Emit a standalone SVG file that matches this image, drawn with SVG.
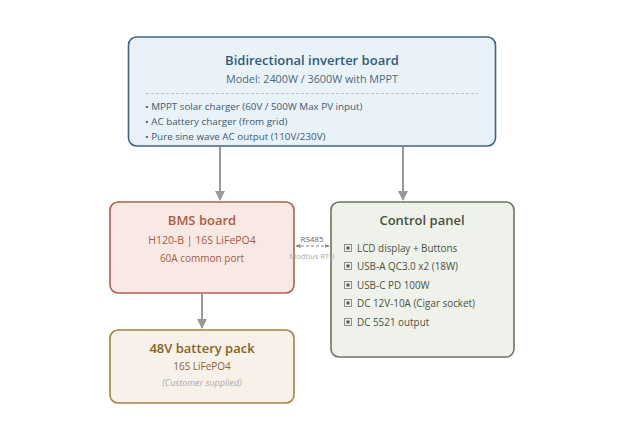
<svg xmlns="http://www.w3.org/2000/svg" width="624" height="446" viewBox="0 0 624 446">
<defs>
<marker id="ah" viewBox="0 0 10 10" refX="9" refY="5" markerWidth="5" markerHeight="5" orient="auto"><path d="M0,0 L10,5 L0,10 z" fill="#999"/></marker>
<marker id="sa" viewBox="0 0 10 10" refX="9" refY="5" markerWidth="5" markerHeight="5" orient="auto-start-reverse"><path d="M0,1 L10,5 L0,9 z" fill="#888"/></marker>
<style>
text{font-family:"Open Sans","Noto Sans",sans-serif}
.t{font-weight:600;font-size:13px;text-anchor:middle}
.s{font-size:10.5px;text-anchor:middle}
.b{font-size:9.8px;fill:#3d5a70}
.c{font-size:9.9px;fill:#4a5244}
.box{stroke-width:1.6}
.conn{stroke:#999;stroke-width:2;fill:none}
</style>
</defs>
<rect width="624" height="446" fill="#ffffff"/>
<g id="inverter">
<rect class="box" x="128.5" y="37" width="367" height="109" rx="8" fill="#e9f2f9" stroke="#3f6482"/>
<text class="t" x="312" y="65" fill="#2d5a80">Bidirectional inverter board</text>
<text class="s" x="312" y="82.5" fill="#4c6a80" style="font-size:10.8px">Model: 2400W / 3600W with MPPT</text>
<line x1="146" y1="93.5" x2="478" y2="93.5" stroke="#b8c4cc" stroke-width="1" stroke-dasharray="3,2"/>
<text class="b" x="145" y="110">• MPPT solar charger (60V / 500W Max PV input)</text>
<text class="b" x="145" y="125">• AC battery charger (from grid)</text>
<text class="b" x="145" y="140">• Pure sine wave AC output (110V/230V)</text>
</g>
<g id="bms">
<rect class="box" x="110" y="202" width="184" height="91" rx="8" fill="#f9e9e5" stroke="#b0604e"/>
<text class="t" x="202" y="225" fill="#b35a40">BMS board</text>
<text class="s" x="202" y="244" fill="#a85a46">H120-B | 16S LiFePO4</text>
<text class="s" x="202" y="262" fill="#a85a46" style="font-size:10px">60A common port</text>
</g>
<g id="control">
<rect class="box" x="331" y="202" width="183" height="155" rx="8" fill="#eff2ea" stroke="#6e7464"/>
<text class="t" x="422" y="225" fill="#4a5040">Control panel</text>
<g fill="none" stroke="#777" stroke-width="0.8">
<rect x="344.5" y="244.5" width="7" height="7"/>
<rect x="344.5" y="262.5" width="7" height="7"/>
<rect x="344.5" y="281.5" width="7" height="7"/>
<rect x="344.5" y="299.5" width="7" height="7"/>
<rect x="344.5" y="318.5" width="7" height="7"/>
</g>
<g fill="#555">
<rect x="346.5" y="246.5" width="3" height="3"/>
<rect x="346.5" y="264.5" width="3" height="3"/>
<rect x="346.5" y="283.5" width="3" height="3"/>
<rect x="346.5" y="301.5" width="3" height="3"/>
<rect x="346.5" y="320.5" width="3" height="3"/>
</g>
<text class="c" x="357" y="251.5">LCD display + Buttons</text>
<text class="c" x="357" y="269.5">USB-A QC3.0 x2 (18W)</text>
<text class="c" x="357" y="288.5">USB-C PD 100W</text>
<text class="c" x="357" y="306.5">DC 12V-10A (Cigar socket)</text>
<text class="c" x="357" y="325.5">DC 5521 output</text>
</g>
<g id="battery">
<rect class="box" x="110" y="330" width="184" height="73" rx="8" fill="#f8f1ea" stroke="#a3843f"/>
<text class="t" x="202" y="353" fill="#8a6222">48V battery pack</text>
<text class="s" x="202" y="370" fill="#8a6634" style="font-size:10px">16S LiFePO4</text>
<text class="s" x="202" y="386" fill="#aaa" style="font-size:9px;font-style:italic">(Customer supplied)</text>
</g>
<g id="connectors">
<line class="conn" x1="220" y1="147" x2="220" y2="200" marker-end="url(#ah)"/>
<line class="conn" x1="403" y1="147" x2="403" y2="200" marker-end="url(#ah)"/>
<line class="conn" x1="202" y1="294" x2="202" y2="328" marker-end="url(#ah)"/>
<line x1="296" y1="246" x2="329" y2="246" stroke="#888" stroke-width="1" stroke-dasharray="3,2" marker-start="url(#sa)" marker-end="url(#sa)"/>
<text x="312" y="242" text-anchor="middle" style="font-size:8px" fill="#666">RS485</text>
<text x="312" y="259" text-anchor="middle" style="font-size:7.5px" fill="#aaa">Modbus RTU</text>
</g>
</svg>
